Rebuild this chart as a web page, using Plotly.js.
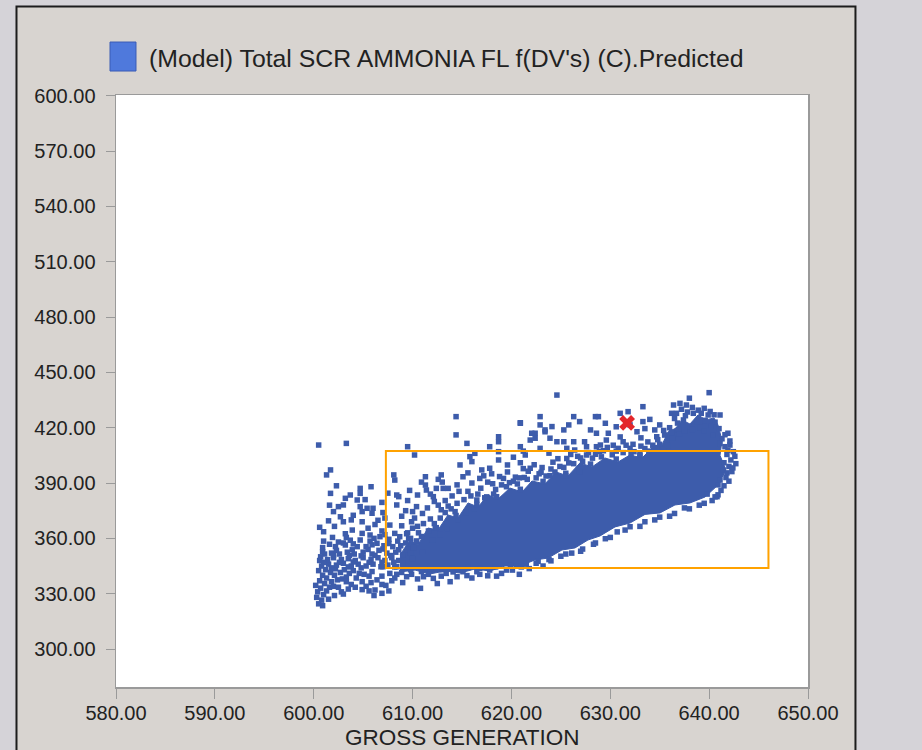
<!DOCTYPE html>
<html>
<head>
<meta charset="utf-8">
<script src="https://cdn.plot.ly/plotly-3.0.1.min.js"></script>
<style>
html,body{margin:0;padding:0;background:#d5d3d8;}
#chart{width:922px;height:750px;}
</style>
</head>
<body>
<div id="chart"></div>
<script>
// ---------- data (GROSS GENERATION, predicted value) ----------
var seriesName = "(Model) Total SCR AMMONIA FL f(DV's) (C).Predicted";
var xTitle = 'GROSS GENERATION';
var xTicks = [580, 590, 600, 610, 620, 630, 640, 650];
var yTicks = [300, 330, 360, 390, 420, 450, 480, 510, 540, 570, 600];

// outline [x, y] of the solid, densely packed part of the cloud
var corePath = [
[608.73,351.0],[609.74,359.1],[610.55,356.4],[611.56,365.6],[612.57,364.5],[613.58,372.7],[614.59,371.0],[615.61,379.2],[616.62,377.0],[617.63,383.5],[618.64,381.3],[619.85,387.3],[621.07,385.1],[622.08,391.1],[623.39,389.5],[624.51,396.0],[625.72,393.8],[626.93,400.9],[628.15,398.7],[629.46,403.6],[630.78,401.4],[631.99,405.2],[633.21,403.6],[634.22,409.0],[635.23,410.6],[635.84,417.7],[636.65,419.8],[637.25,424.2],[638.06,422.0],[638.87,426.9],[639.68,424.2],[640.49,425.3],[640.89,421.5],[641.30,413.3],[641.10,405.0],[641.70,397.1],[640.89,388.9],
[639.58,382.4],[638.06,379.2],[636.54,378.1],[635.03,373.8],[633.51,373.0],[631.99,368.3],[630.48,366.2],[628.96,361.3],[627.74,359.1],[626.43,354.8],[625.11,353.7],[623.70,349.3],[622.38,348.3],[620.87,345.0],[619.35,345.0],[617.83,342.3],[616.31,343.4],[614.80,341.2],[613.28,342.3],[611.76,340.7],[610.25,342.8],[608.73,341.8]
];

// left (low generation) cluster
var leftCluster = [
[600.5,324.5],[600.8,326.5],[600.3,328],[601.0,329.5],[600.4,331],[601.3,331.5],[600.7,333],[601.6,333.5],[600.2,334.5],[601.1,335.5],[602.0,334],[601.8,336.5],[600.6,337],[602.4,337.5],[601.3,338.5],[602.9,338],[600.9,340],[602.1,340],[603.3,339],[601.7,341.5],[602.7,341.5],[603.6,341],[600.5,342.5],[601.2,343],[602.2,343.5],[603.1,343],[604.0,342.5],[604.6,341],[605.1,340.5],[604.3,338.5],[605.6,339.5],[604.9,336.5],[605.8,336],[606.4,337.5],[606.9,335],[607.3,334.5],[606.2,332],[604.9,332.2],[606.9,330.2],[603.8,335],[603.3,336.5],
[600.8,345],[601.5,346],[602.3,345.5],[603.0,346.5],[603.8,345],[604.5,346],[605.3,345],[606.0,346],[606.8,344.6],[607.5,345.5],[608.2,344.5],[600.6,348],[601.4,348.5],[602.0,349.5],[602.8,348.5],[603.5,349],[604.2,348],[605.0,349.5],[605.8,348.5],[606.5,349.5],[607.2,348],[607.9,349.5],[608.6,348],[601.1,351.5],[601.8,352],[602.6,351.5],[603.4,352.5],[604.1,351.5],[605.0,352.5],[605.9,351.5],[606.6,353.5],[607.4,352],[608.3,352.5],[609.0,351],[600.9,355],[602.2,355.5],[603.2,356.4],[604.4,355.5],[605.3,355.5],[606.4,357.3],[607.1,356],[608.0,355.5],[608.8,356],[601.0,358.5],[602.5,358],[603.7,359],[604.7,359.1],[605.7,358.5],[606.7,360.9],[607.6,359.5],[608.5,358.5],[609.3,357.5],[610.1,355],
[601.0,363.6],[603.2,362.5],[604.9,362.7],[605.7,361.8],[605.5,365.5],[604.9,369],[606.9,364],[607.7,367.2],[608.2,362.7],[608.7,360.9],[609.5,363],[602.7,371.7],[603.0,369.0],[603.8,370.0],[602.0,374.5],[602.5,377.2],[603.0,378.1],[604.7,377.2],[605.4,376.3],[606.0,376.3],[604.9,374.5],[605.9,373.6],[601.7,384.4],[603.2,381.7],[603.7,383.5],[604.7,387.1],[604.7,384.4],[604.4,380.8],[601.7,397.1],[601.3,394.4],[600.5,410.6],[603.3,411.5],[608.4,383.5],[608.6,382.6],[608.4,378.1],[610.4,377.2],[608.1,394.4],[608.2,391.6],[607.2,371],[608.9,372],[609.9,369],[610.5,366.5],[609.3,375],
[600.9,323.5],[601.5,327],[602.1,329],[602.8,331],[603.5,332.5],[602.5,333.5],[603.0,329.8],[604.2,333.5],[605.3,334],[605.6,331.5],[606.1,329],[607.6,331.5],[607.9,337],[608.4,340.5],[606.9,339.5],[605.9,342],[604.8,344],[603.5,344.5],[601.8,344],[601.0,347],[602.6,347],[604.0,347.2],[605.6,347],[606.9,347],[608.1,347],[609.0,346.5],[600.7,350],[602.0,350.8],[603.6,350.7],[604.8,350.5],[606.2,350.8],[607.8,350.7],[600.9,352.8],[602.3,353.5],[603.9,353.8],[605.5,354],[607.0,354.2],[608.6,353.8],[601.6,356.8],[603.0,357.5],[604.0,357],[605.9,356.5],[607.6,357.2],[609.5,354],[601.9,360.5],[603.3,360.5],[606.1,360],[607.2,362],[609.8,360],[600.6,366],[602.1,366.5],[603.9,364.5],[606.2,367.5],[601.5,369.5],[607.0,374],[606.5,369.8],[604.0,372.5],[601.6,378],[605.2,381],[602.3,388.5],[606.9,379.5],[607.5,384.5],[605.8,388]
];

// points between the left cluster and the dense band
var middlePoints = [
[609.5,409.7],[610.2,405.2],[611.3,393.4],[611.3,388.9],[611.4,386.2],[612.9,394.4],[612.4,387.1],[613.1,387.1],[613.6,387.1],[612.1,382.6],[614.4,426.0],[614.4,416.1],[615.5,411.5],[615.1,393.4],[614.8,399.8],[615.8,404.3],[616.0,401.6],[616.3,406.1],[617.0,397.1],[617.8,398.0],[617.8,409.7],[618.7,415.1],[618.7,412.4],[618.7,407.0],[618.7,402.5],
[609.8,352],[610.4,358],[610.9,361],[611.6,364],[612.2,368],[612.8,371],[613.3,374],[613.9,376],[614.5,379],[615.2,381],[615.9,383],[616.6,384],[610.0,349],[611.0,352.5],[612.0,359],[612.8,362],[613.5,365],[614.6,370],[615.4,374],[616.2,376],[617.3,382],[618.2,384],[612.6,378],[614.0,383],[611.0,373.5],[610.2,371],[613.0,390.5],[614.5,389],[616.0,390],[617.6,390.5],[619.0,389],[620.2,391],[621.3,393],[615.6,395.5],[619.6,396],[620.9,401],[621.9,398],[622.8,395],[623.9,394],[624.9,399],[618.8,393.5],
[608.9,341.5],[609.9,340.5],[610.5,338],[611.6,340.5],[612.9,339.5],[614.1,341.8],[615.5,339.8],[616.8,340.5],[617.6,339.7],[619.0,341],[620.1,342.8],[621.8,343.6],[623.2,345],[609.4,362.5],[610.0,365.5],[610.6,363],[611.1,368],[611.8,370.5],[612.3,365.5],[612.9,375.5],[613.6,377.5],[614.3,374.5],[610.0,374.5],[611.5,376.5],[612.2,380],[613.3,380.5],[614.7,385.5],[615.6,385.5],[616.5,380.8],[616.8,392.5],[611.8,384],[610.5,383.5],[610.9,390.5],[612.6,392],[609.7,386],[609.5,380.5],[608.9,366.8],[609.6,359.8],
[610.4,358.6],[612.4,365.8],[614.4,372.4],[616.5,378.4],[618.5,382.6],[620.9,386.6],[623.2,390.9],[625.5,395.3],[628.0,400.3],[630.6,403.0],[633.0,404.9]
];

// scattered points above the band
var upperPoints = [
[620.9,409.7],[621.4,405.2],[621.9,413.3],[622.4,417.0],[623.4,417.8],[620.9,422.7],[622.9,426.0],[622.9,421.5],[624.6,437.7],[640.0,439.0],
[620.9,422.4],[622.05,417.0],[623.4,418.8],[624.1,420.6],[625.3,418.8],[626.3,426.0],[626.9,423.3],[625.8,421.5],[628.5,426.0],[628.8,426.0],[629.5,422.4],[628.0,418.8],[628.6,417.0],[627.4,412.4],[626.3,412.4],[625.3,412.4],[624.6,412.4],[623.9,414.3],[622.4,414.3],[622.9,408.8],
[625.6,408.8],[626.4,407.9],[627.6,409.7],[629.0,410.6],[629.6,413.3],[628.6,409.7],
[631.0,427.8],[631.8,428.7],[633.3,431.4],[633.3,423.3],[631.3,412.4],[632.0,408.8],[632.7,417.8],[634.5,418.8],[635.0,421.5],[634.7,415.1],[635.5,416.0],[635.7,411.5],[636.4,432.3],[637.05,433.2],[637.7,432.3],[636.2,427.8],[636.7,427.8],[637.4,424.2],[638.4,427.8],[639.2,427.8],[639.9,426.9],[641.1,426.9],[641.9,417.0],[642.1,410.6],[642.45,407.0],[641.6,409.7],[641.1,411.5],[640.4,416.0],
[641.4,397.1],[642.3,396.2],[641.1,391.6],[640.8,382.6],
[636.5,425],[637.2,430],[637.8,428.5],[638.3,431],[638.9,429.5],[639.5,430.5],[640.1,428.8],[640.5,427],[636.0,420],[636.8,422.5],[637.6,426.5],[638.8,423.3],[639.6,424],[640.6,423],[641.0,419.5],[635.4,418.5],[636.2,417.5],[636.9,419],[637.9,420.5],[639.1,420],[640.2,421],[634.8,413.5],[635.0,411],[633.8,412.3],[633.1,414.5],[632.3,411],[631.0,415],[630.3,410.5],[629.8,417],[630.6,420.5],[632.0,421.5],[633.5,419.5],[634.0,424.5],[638.0,436],[641.3,414],[641.8,405.5],[642.2,402.5],[642.7,400.5],[642.0,399],[642.6,404.5],[641.5,401],[641.7,393],[640.9,389],[641.2,386],[639.8,384],[640.3,380.5],
[617.5,382.5],[618.4,386.5],[619.5,388],[620.6,389.5],[621.6,392],[622.5,392.8],[623.5,393.8],[624.4,396],[625.3,398.5],[626.3,400.5],[627.2,401.8],[628.2,403.5],[629.1,404.2],[630.2,405.3],[631.3,406.5],[632.4,407],[633.5,408.7],[634.3,410.5],[626.7,404.5],[627.8,406.5],[630.8,408.8],[633,405.5],[624.2,401.3],[623.1,398.4],[621.7,396.4],[620.4,393.2],[619.2,392.5],[618.1,389.6],[616.9,387.2],[628.9,407.1],[625.6,403.3],
[619.8,390.2],[620.8,392.8],[621.2,397.8],[622.3,399.9],[623.0,395.8],[624.0,397.6],[624.7,403.2],[625.8,400.9],[626.0,405.5],[627.0,403.6],[627.6,405.2],[628.5,405.6],[629.3,407.5],[629.7,409.3],[630.6,407.3],[631.6,410.5],[632.1,405.9],[633.1,410],[633.9,407.3],[634.7,409.2],[635.4,408.3],[635.8,410.4],[636.3,414.3],[637.0,416.5],[637.5,418.4],[638.3,419.0],[639.5,418.2],[623.8,406.2],[621.2,407.3],[620.2,404.0],[619.6,399.8],[618.0,395.0],[617.2,393.9],[626.9,396.3],[625.5,393.9],
[641.8,395.5],[642.0,391.0],[641.5,388.5],[642.4,398.2],[641.9,407.8],[642.1,412.8],[641.6,416.2],[640.9,383.6]
];

// points along and below the lower edge of the band
var lowerPoints = [
[609.4,339.2],[610.8,332.9],[611.1,339.2],[612.1,338.3],[613.4,341],[614.5,339.2],[615.1,341.9],[616.5,341.9],[617.8,342.8],[619.5,342.8],[607.0,344.6],[607.7,341],[608.4,344.6],[609.8,343],[610.9,342],[611.8,343.5],[613,343],[614,344],[615.6,344.2],[616.8,343.8],[618.4,344.5],[619.9,345.5],[620.8,340.5],[618.5,339.5],[616,338.5],[613.8,336.5],[612.5,335.5],[609.0,336],[608.2,338.5],
[620.5,345],[621.5,346.0],[622.7,347.5],[623.8,348.5],[625,350.3],[626.1,352],[627.2,354.2],[628.3,356.8],[629.5,359.8],[630.7,363.5],[632,366.3],[633.5,369],[635,371.5],[636.5,373.5],[638,376],[639.5,379],[640.6,382.5],
[621,344.5],[622.5,346.5],[624,347.8],[625.5,351.5],[627,353],[628.5,357.5],[630,360.5],[631.5,364.5],[633,366.5],[634.5,370],[636,372],[637.5,376.5],[639,378]
];

// highlighted observation (red cross)
var markX = [631.7];
var markY = [422.6];

// target operating box
var boxX = [607.3, 646.0];
var boxY = [343.9, 407.4];

// ---------- build ----------
var coreX = corePath.map(function(p){return p[0];});
var coreY = corePath.map(function(p){return p[1];});
var allPts = leftCluster.concat(middlePoints, upperPoints, lowerPoints);
var ptsX = allPts.map(function(p){return p[0];});
var ptsY = allPts.map(function(p){return p[1];});

var fontFam = "Liberation Sans, Arial, Helvetica, sans-serif";
var blue = '#3d5cab';

var traces = [
  {x: coreX, y: coreY, type: 'scatter', mode: 'lines', fill: 'toself',
   fillcolor: blue, line: {color: blue, width: 1}, hoverinfo: 'skip', showlegend: false},
  {x: ptsX, y: ptsY, type: 'scatter', mode: 'markers', name: seriesName,
   marker: {symbol: 'square', size: 5.5, color: blue, line: {width: 0}}, showlegend: false},
  {x: markX, y: markY, type: 'scatter', mode: 'markers', name: 'Current',
   marker: {symbol: 'x', size: 14, color: '#e3262b', line: {width: 0}}, showlegend: false}
];

var layout = {
  width: 922, height: 750,
  margin: {l: 116, r: 114, t: 95, b: 63, pad: 0},
  paper_bgcolor: '#d8d4d0',
  plot_bgcolor: '#ffffff',
  font: {family: fontFam, color: '#222222', size: 20},
  showlegend: false,
  xaxis: {
    range: [580, 650], tickvals: xTicks, tickformat: '.2f',
    ticks: 'outside', ticklen: 10, tickcolor: '#9a9a9a', tickwidth: 1,
    showgrid: false, zeroline: false, showline: true, mirror: true,
    linecolor: '#9a9a9a', linewidth: 1.5,
    tickfont: {size: 20, color: '#222222'}, ticklabelstandoff: -3
  },
  yaxis: {
    range: [279.4, 600.4], tickvals: yTicks, tickformat: '.2f',
    ticks: 'outside', ticklen: 9, tickcolor: '#9a9a9a', tickwidth: 1,
    showgrid: false, zeroline: false, showline: true, mirror: true,
    linecolor: '#9a9a9a', linewidth: 1.5,
    tickfont: {size: 20, color: '#222222'}, ticklabelstandoff: 6
  },
  shapes: [
    {type: 'rect', xref: 'x', yref: 'y', x0: boxX[0], x1: boxX[1], y0: boxY[0], y1: boxY[1],
     line: {color: '#ffa200', width: 2}, fillcolor: 'rgba(0,0,0,0)', layer: 'above'},
    // legend swatch
    {type: 'rect', xref: 'paper', yref: 'paper', x0: -0.00867, x1: 0.0289, y0: 1.0405, y1: 1.0895,
     fillcolor: '#4f79dc', line: {color: '#3a5cb5', width: 1}, layer: 'above'},
    // window surroundings
    {type: 'rect', xref: 'paper', yref: 'paper', x0: -0.1677, x1: -0.1445, y0: -0.25, y1: 1.25,
     fillcolor: '#d5d3d8', line: {width: 0}, layer: 'above'},
    {type: 'rect', xref: 'paper', yref: 'paper', x0: 1.0694, x1: 1.17, y0: -0.25, y1: 1.25,
     fillcolor: '#d5d3d8', line: {width: 0}, layer: 'above'},
    {type: 'rect', xref: 'paper', yref: 'paper', x0: -0.17, x1: 1.17, y0: 1.1486, y1: 1.25,
     fillcolor: '#d5d3d8', line: {width: 0}, layer: 'above'},
    {type: 'rect', xref: 'paper', yref: 'paper', x0: -0.1438, x1: 1.0686, y0: -0.25, y1: 1.1495,
     fillcolor: 'rgba(0,0,0,0)', line: {color: '#1c1c1c', width: 2}, layer: 'above'}
  ],
  annotations: [
    {text: seriesName, xref: 'paper', yref: 'paper', x: 0.0448, y: 1.0625,
     xanchor: 'left', yanchor: 'middle', showarrow: false,
     font: {size: 24.8, color: '#222222', family: fontFam}},
    {text: xTitle, xref: 'paper', yref: 'paper', x: 0.5, y: -0.0855,
     xanchor: 'center', yanchor: 'middle', showarrow: false,
     font: {size: 22.5, color: '#222222', family: fontFam}}
  ]
};

Plotly.newPlot('chart', traces, layout, {displayModeBar: false, staticPlot: true});
</script>
</body>
</html>
